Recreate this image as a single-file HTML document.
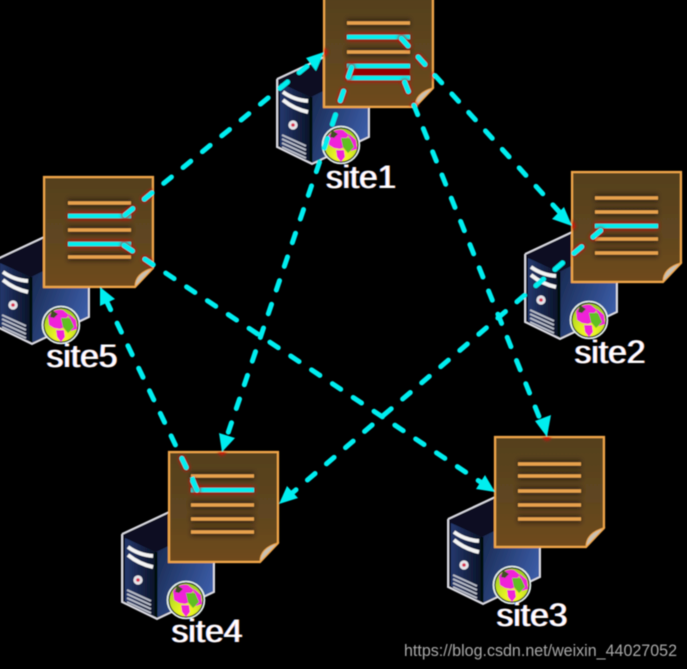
<!DOCTYPE html>
<html>
<head>
<meta charset="utf-8">
<style>
html,body{margin:0;padding:0;background:#000;}
svg{display:block;}
text{font-family:"Liberation Sans",sans-serif;}
</style>
</head>
<body>
<svg xmlns="http://www.w3.org/2000/svg" width="687" height="669" viewBox="0 0 687 669">
<defs>
  <linearGradient id="docFill" x1="0" y1="0" x2="0" y2="1">
    <stop offset="0" stop-color="#55411f"/>
    <stop offset="0.55" stop-color="#5f4520"/>
    <stop offset="1" stop-color="#704b1e"/>
  </linearGradient>
  <linearGradient id="rightFace" x1="0" y1="0" x2="1" y2="0.6">
    <stop offset="0" stop-color="#142346"/>
    <stop offset="1" stop-color="#3b5ca6"/>
  </linearGradient>
  <linearGradient id="leftFace" x1="0" y1="0" x2="1" y2="0">
    <stop offset="0" stop-color="#24386e"/>
    <stop offset="1" stop-color="#0a1226"/>
  </linearGradient>
  <radialGradient id="globeFill" cx="0.5" cy="0.85" r="0.8">
    <stop offset="0" stop-color="#ffff20"/>
    <stop offset="1" stop-color="#a0d020"/>
  </radialGradient>
  <filter id="b1" filterUnits="userSpaceOnUse" x="-100" y="-100" width="900" height="900"><feGaussianBlur stdDeviation="2"/></filter>
  <filter id="b2" filterUnits="userSpaceOnUse" x="0" y="0" width="687" height="669"><feGaussianBlur stdDeviation="1.5"/></filter>
  <filter id="soft" filterUnits="userSpaceOnUse" x="0" y="0" width="687" height="669"><feGaussianBlur stdDeviation="0.42"/></filter>
  <filter id="halo" filterUnits="userSpaceOnUse" x="0" y="0" width="687" height="669">
    <feOffset in="SourceAlpha" dx="-0.8" result="a"/>
    <feFlood flood-color="#2a90ff"/><feComposite in2="a" operator="in" result="blue"/>
    <feOffset in="SourceAlpha" dx="0.8" result="c"/>
    <feFlood flood-color="#ff9a30"/><feComposite in2="c" operator="in" result="orange"/>
    <feMerge><feMergeNode in="blue"/><feMergeNode in="orange"/><feMergeNode in="SourceGraphic"/></feMerge>
  </filter>
  <clipPath id="docsClip">
    <rect x="324" y="0" width="110" height="107"/>
    <rect x="44" y="177" width="109" height="110"/>
    <rect x="572" y="172" width="110" height="110"/>
    <rect x="169" y="452" width="110" height="110"/>
    <rect x="495" y="437" width="108" height="110"/>
  </clipPath>

  <g id="server">
    <path d="M-47,82 L0,60 L45,72 V140 L-12,167 L-47,150 Z" fill="#0a1020"/>
    <path d="M-13,100 L45,72 V140 L-13,166 Z" fill="url(#rightFace)"/>
    <path d="M-44,86 L-13,100 V166 L-44,149 Z" fill="url(#leftFace)"/>
    <path d="M-13,100 V166" stroke="#05070f" stroke-width="3" fill="none"/>
    <path d="M-47,82 L0,60 M-47,82 V150 L-12,167 L45,140 V110" stroke="#dcdce4" stroke-width="2" fill="none"/>
    <path d="M-41,95 Q-30,103 -16,104 M-41,103 Q-30,112 -16,115" stroke="#f4f4f4" stroke-width="3.8" fill="none"/>
    <circle cx="-31" cy="128" r="4.6" fill="#e4e4ea"/>
    <circle cx="-31" cy="128" r="1.8" fill="#d83050"/>
    <path d="M-42,138 L-18,149 M-42,142 L-18,153 M-42,146 L-18,157 M-42,150 L-18,161" stroke="#b8bcc8" stroke-width="1.8" fill="none"/>
  </g>

  <g id="globe">
    <circle cx="17" cy="148" r="18.5" fill="#0a1020" stroke="#e8f4f0" stroke-width="1.6"/>
    <circle cx="17" cy="148" r="16.5" fill="url(#globeFill)"/>
    <path d="M4,139 Q10,131 19,133 L25,138 L20,144 L24,149 L16,152 L10,151 L5,148 Z" fill="#f020d8"/>
    <path d="M25,137 L32,143 L33,152 L27,154 L24,148 Z" fill="#f020d8"/>
    <path d="M12,153 L20,153 L21,160 L17,165 L13,160 Z" fill="#f020d8"/>
    <path d="M17,141 L26,141 L30,150 L24,156 L19,150 Z" fill="#60c020"/>
    <path d="M8,133 L14,137 L10,141 L6,140 Z" fill="#405020"/>
  </g>

  <g id="doc">
    <path d="M0,0 H109 V91 L91,110 H0 Z" fill="url(#docFill)" stroke="#f0a648" stroke-width="2.2"/>
    <path d="M91,110 Q91,96 109,91 Z" fill="#c9c2b4" stroke="#f0a648" stroke-width="1"/>
  </g>
</defs>

<rect width="687" height="669" fill="#000"/>
<g filter="url(#soft)">

<!-- site1 -->
<g transform="translate(324,-3)">
  <use href="#server"/>
  <use href="#globe"/>
  <use href="#doc"/>
  <path d="M23,26 H86 M23,55 H86" stroke="#201808" stroke-width="8" opacity=".7" filter="url(#b1)"/>
  <path d="M23,40 H86 M23,69 H86 M23,81 H86" stroke="#d01000" stroke-width="6.5" filter="url(#b1)"/>
  <rect x="28" y="69" width="58" height="12" fill="#940600"/>
  <path d="M23,26 H86 M23,55 H86" stroke="#e8a24e" stroke-width="3.4"/>
  <path d="M23,40 H86 M23,69 H86 M23,81 H86" stroke="#00f0f0" stroke-width="4.4"/>
  <path d="M28,69 L25,81" stroke="#00f0f0" stroke-width="4.4"/>
</g>
<text x="361" y="188" font-size="32" text-anchor="middle" fill="#fff" filter="url(#halo)" textLength="70" lengthAdjust="spacingAndGlyphs">site1</text>

<!-- site5 -->
<g transform="translate(44,177)">
  <use href="#server"/>
  <use href="#globe"/>
  <use href="#doc"/>
  <path d="M24,26 H87 M24,53 H87 M24,80 H87" stroke="#201808" stroke-width="8" opacity=".7" filter="url(#b1)"/>
  <path d="M24,39 H87 M24,67 H87" stroke="#d01000" stroke-width="6.5" filter="url(#b1)"/>
  <path d="M24,26 H87 M24,53 H87 M24,80 H87" stroke="#e8a24e" stroke-width="3.4"/>
  <path d="M24,39 H87 M24,67 H87" stroke="#00f0f0" stroke-width="4.4"/>
</g>
<text x="82" y="367" font-size="32" text-anchor="middle" fill="#fff" filter="url(#halo)" textLength="71" lengthAdjust="spacingAndGlyphs">site5</text>

<!-- site2 -->
<g transform="translate(572,172)">
  <use href="#server"/>
  <use href="#globe"/>
  <use href="#doc"/>
  <path d="M23,26 H86 M23,40 H86 M23,67 H86 M23,81 H86" stroke="#201808" stroke-width="8" opacity=".7" filter="url(#b1)"/>
  <path d="M23,54 H86" stroke="#d01000" stroke-width="6.5" filter="url(#b1)"/>
  <path d="M23,26 H86 M23,40 H86 M23,67 H86 M23,81 H86" stroke="#e8a24e" stroke-width="3.4"/>
  <path d="M23,54 H86" stroke="#00f0f0" stroke-width="4.4"/>
</g>
<text x="610" y="363" font-size="32" text-anchor="middle" fill="#fff" filter="url(#halo)" textLength="71" lengthAdjust="spacingAndGlyphs">site2</text>

<!-- site4 -->
<g transform="translate(169,452)">
  <use href="#server"/>
  <use href="#globe"/>
  <use href="#doc"/>
  <path d="M22,24 H85 M22,53 H85 M22,67 H85 M22,80 H85" stroke="#201808" stroke-width="8" opacity=".7" filter="url(#b1)"/>
  <path d="M22,38 H85" stroke="#d01000" stroke-width="6.5" filter="url(#b1)"/>
  <path d="M22,24 H85 M22,53 H85 M22,67 H85 M22,80 H85" stroke="#e8a24e" stroke-width="3.4"/>
  <path d="M22,38 H85" stroke="#00f0f0" stroke-width="4.4"/>
</g>
<text x="207" y="642" font-size="32" text-anchor="middle" fill="#fff" filter="url(#halo)" textLength="71" lengthAdjust="spacingAndGlyphs">site4</text>

<!-- site3 -->
<g transform="translate(495,437)">
  <use href="#server"/>
  <use href="#globe"/>
  <use href="#doc"/>
  <path d="M23,27 H86 M23,39 H86 M23,54 H86 M23,68 H86 M23,82 H86" stroke="#201808" stroke-width="8" opacity=".7" filter="url(#b1)"/>
  <path d="M23,27 H86 M23,39 H86 M23,54 H86 M23,68 H86 M23,82 H86" stroke="#e8a24e" stroke-width="3.4"/>
</g>
<text x="532" y="626" font-size="32" text-anchor="middle" fill="#fff" filter="url(#halo)" textLength="71" lengthAdjust="spacingAndGlyphs">site3</text>

<!-- red glow around connectors inside documents -->
<g clip-path="url(#docsClip)">
  <g stroke="#e01000" stroke-width="6.4" fill="none" filter="url(#b2)" stroke-dasharray="10 15" stroke-linecap="round">
    <path d="M125,215 L324,52"/>
    <path d="M400,37 L572,226" stroke-dashoffset="-2"/>
    <path d="M403,78 L547,437" stroke-dashoffset="-4.5"/>
    <path d="M352,66 L222,452" stroke-dashoffset="-1.5"/>
    <path d="M122,244 L495,492" stroke-dashoffset="-2.5"/>
    <path d="M197,490 L100,287"/>
    <path d="M606,226 L279,504" stroke-dashoffset="-7"/>
  </g>
</g>

<!-- dashed connectors -->
<g stroke="#00eef0" stroke-width="5" fill="none" stroke-dasharray="10 15" stroke-linecap="round">
  <path d="M125,215 L312,62"/>
  <path d="M400,37 L563,216" stroke-dashoffset="-2"/>
  <path d="M403,78 L542,424" stroke-dashoffset="-4.5"/>
  <path d="M352,66 L226,439" stroke-dashoffset="-1.5"/>
  <path d="M122,244 L482,483" stroke-dashoffset="-2.5"/>
  <path d="M197,490 L106,300"/>
  <path d="M606,226 L291,494" stroke-dashoffset="-7"/>
</g>
<path d="M192,477 L197,490" stroke="#00eef0" stroke-width="4.4" fill="none"/>

<!-- arrowheads -->
<g fill="#00eef0">
  <polygon points="324,52 306,58 316,71"/>
  <polygon points="572,226 552,219 564,207"/>
  <polygon points="547,437 535,421 551,415"/>
  <polygon points="222,452 219,433 235,438"/>
  <polygon points="495,492 476,489 485,475"/>
  <polygon points="100,287 115,299 100,306"/>
  <polygon points="279,504 287,486 298,498"/>
</g>

<text x="404" y="656" font-size="16.5" fill="#a8a8a8" textLength="273" lengthAdjust="spacingAndGlyphs">https://blog.csdn.net/weixin_44027052</text>
</g>
</svg>
</body>
</html>
